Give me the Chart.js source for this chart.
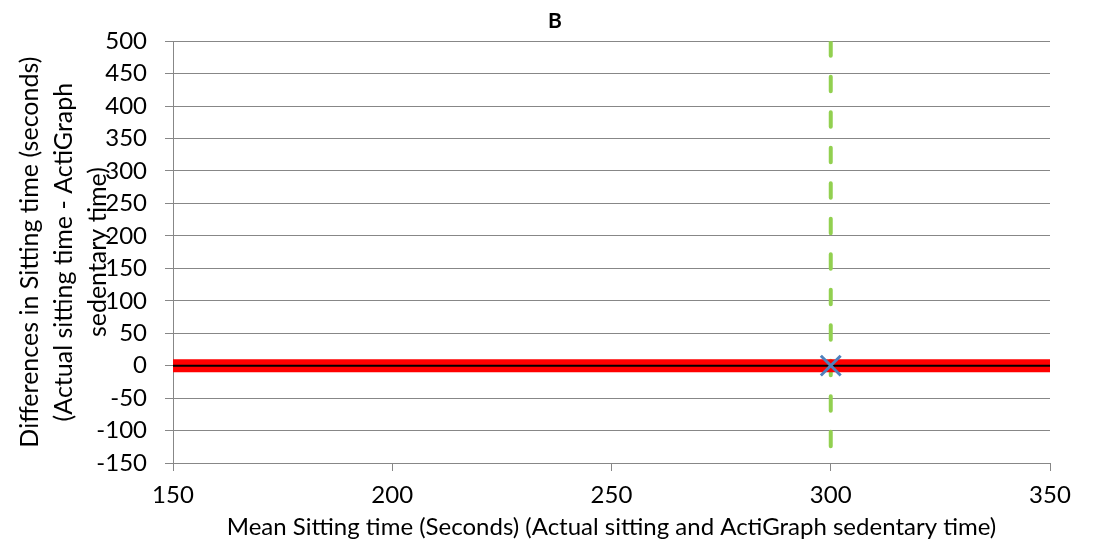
<!DOCTYPE html>
<html>
<head>
<meta charset="utf-8">
<script src="https://cdn.jsdelivr.net/npm/chart.js@4/dist/chart.umd.min.js"></script>
<style>
  html, body { margin: 0; padding: 0; background: #ffffff; }
  #wrap { width: 1095px; height: 543px; position: relative; }
</style>
</head>
<body>
<div id="wrap"><canvas id="c"></canvas></div>
<script>
// ---- Data ----
const chartTitle = 'B';
const xTitle = 'Mean Sitting time (Seconds) (Actual sitting and ActiGraph sedentary time)';
const yTitle = ['Differences in Sitting time (seconds)', '(Actual sitting time - ActiGraph', 'sedentary time)'];

const xMin = 150, xMax = 350, xStep = 50;
const yMin = -150, yMax = 500, yStep = 50;

// limits of agreement (red) and mean difference (black)
const loaX = [150, 350];
const loaY = [0, 0];
const meanX = [150, 350];
const meanY = [0, 0];
// vertical reference (green dashed)
const refX = [300, 300];
const refY = [500, -150];
// observed point(s)
const pointX = [300];
const pointY = [0];

const toXY = (xs, ys) => xs.map((x, i) => ({ x: x, y: ys[i] }));

const FONT = 'Lato';
const GRID = '#878787';

new Chart(document.getElementById('c'), {
  type: 'scatter',
  data: {
    datasets: [
      {
        label: 'Data',
        data: toXY(pointX, pointY),
        showLine: false,
        pointStyle: 'crossRot',
        pointRadius: 14,
        pointBorderWidth: 3,
        pointBorderColor: '#4F81BD',
        pointBackgroundColor: '#4F81BD',
        order: 0
      },
      {
        label: 'Mean',
        data: toXY(meanX, meanY),
        showLine: true,
        borderColor: '#000000',
        borderWidth: 2,
        pointRadius: 0,
        order: 1
      },
      {
        label: 'LoA',
        data: toXY(loaX, loaY),
        showLine: true,
        borderColor: '#FF0000',
        borderWidth: 13,
        pointRadius: 0,
        order: 2
      },
      {
        label: 'Ref',
        data: toXY(refX, refY),
        showLine: true,
        borderColor: '#92D050',
        borderWidth: 4,
        borderDash: [14.5, 21],
        borderCapStyle: 'round',
        pointRadius: 0,
        order: 3
      }
    ]
  },
  options: {
    responsive: true,
    maintainAspectRatio: false,
    animation: false,
    layout: { padding: { left: 15, right: 0, top: 0, bottom: 0 } },
    plugins: {
      legend: { display: false },
      tooltip: { enabled: false },
      title: {
        display: true,
        text: chartTitle,
        color: '#000',
        font: { family: FONT, size: 21, weight: 'bold', lineHeight: 1.2 },
        padding: { top: 9, bottom: 7 }
      }
    },
    scales: {
      x: {
        type: 'linear',
        min: xMin, max: xMax,
        ticks: { stepSize: xStep, color: '#000', font: { family: FONT, size: 24 }, padding: 10, maxRotation: 0 },
        grid: { drawOnChartArea: false, drawTicks: true, tickLength: 8, color: GRID, lineWidth: 1 },
        border: { display: true, color: GRID, width: 1 },
        title: {
          display: true, text: xTitle, color: '#000',
          font: { family: FONT, size: 24, lineHeight: 1.2 },
          padding: { top: 0, bottom: 1 }
        },
        afterFit: (s) => { s.height = 80; }
      },
      y: {
        type: 'linear',
        position: 'left',
        min: yMin, max: yMax,
        ticks: { stepSize: yStep, color: '#000', font: { family: FONT, size: 24 }, padding: 18 },
        grid: { drawOnChartArea: true, drawTicks: true, tickLength: 8, color: GRID, lineWidth: 1 },
        border: { display: true, color: GRID, width: 1 },
        title: {
          display: true, text: yTitle, color: '#000',
          font: { family: FONT, size: 25, lineHeight: 34 / 25 },
          padding: { top: -2.5, bottom: 0 }
        },
        afterFit: (s) => { s.width = 158; }
      },
      yR: {
        type: 'linear',
        position: 'right',
        min: yMin, max: yMax,
        ticks: { display: false },
        grid: { display: false, drawTicks: false },
        border: { display: false },
        title: { display: false },
        afterFit: (s) => { s.width = 45; }
      }
    }
  }
});
</script>
</body>
</html>
